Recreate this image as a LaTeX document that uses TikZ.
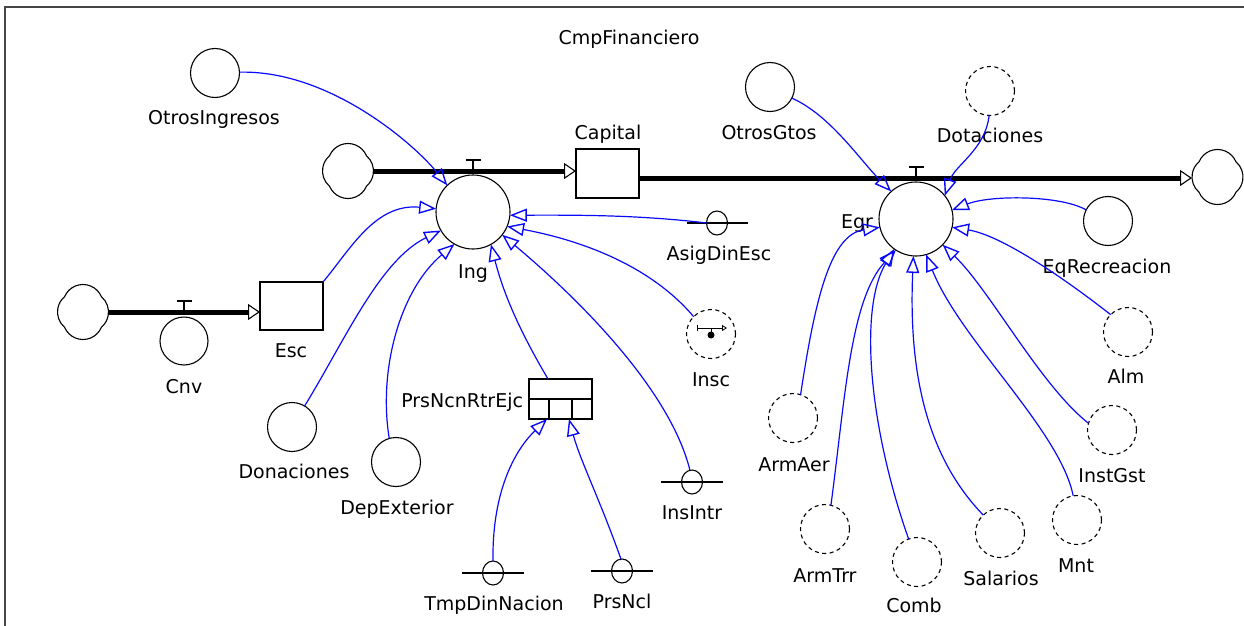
\documentclass[tikz,border=0pt]{standalone}
\usepackage{fontspec}
\setmainfont{DejaVu Sans}
\usetikzlibrary{arrows.meta,shapes.geometric,calc}
\definecolor{linkblue}{RGB}{10,10,250}
\definecolor{framegray}{RGB}{70,70,70}
\begin{document}
\begin{tikzpicture}[x=1pt,y=-1pt,
  every node/.style={font=\fontsize{19}{22}\selectfont, inner sep=0pt, outer sep=0pt},
  lbl/.style={anchor=base},
  aux/.style={circle, draw, line width=1.1pt, minimum size=49pt},
  auxd/.style={aux, dash pattern=on 4pt off 3.5pt},
  valvec/.style={circle, draw, line width=1.1pt, minimum size=74pt},
  stock/.style={rectangle, draw, line width=1.1pt},
  ghost/.style={ellipse, draw, line width=1.1pt, minimum width=21pt, minimum height=24pt},
  ghostline/.style={line width=1.1pt},
  pipe/.style={line width=5pt, -{Triangle[open, length=12pt, width=16pt, line width=1.1pt]}},
  link/.style={linkblue, line width=1.2pt, -{Triangle[open, length=17pt, width=13pt, line width=1.4pt]}},
  cloudarea/.style={minimum width=51pt, minimum height=57pt},
  cloudpic/.pic={\draw[line width=1.1pt] (18.43,15.25) arc[start angle=22.8, end angle=157.2, radius=20]
     arc[start angle=130.3, end angle=229.7, radius=20]
     arc[start angle=202.8, end angle=337.2, radius=20]
     arc[start angle=-49.7, end angle=49.7, radius=20] -- cycle;},
  tee/.style={line width=1.1pt}
]
\useasboundingbox (0,0) rectangle (1244,626);
\draw[line width=1.3pt, framegray] (5,630) -- (5,7) -- (1250,7);

% title
\node[lbl] (title) at (629,45) {CmpFinanciero};

% clouds
\node[cloudarea] (cl1) at (348,171) {};
\pic at (348,171) {cloudpic};
\node[cloudarea] (cl2) at (1217.5,178) {};
\pic at (1217.5,177) {cloudpic};
\node[cloudarea] (cl3) at (83,312) {};
\pic at (83,312) {cloudpic};

% stocks
\node[stock, minimum width=63pt, minimum height=49pt] (cap) at (607.5,173.5) {};
\node[lbl] (capl) at (608,139) {Capital};
\node[stock, minimum width=63pt, minimum height=48pt] (esc) at (291.5,306) {};
\node[lbl] (escl) at (291,357) {Esc};

% valves
\node[valvec] (ing) at (473,212) {};
\node[lbl] (ingl) at (473,278) {Ing};
\node[valvec] (egr) at (916,219) {};
\node[lbl] (egrl) at (857,228) {Egr};
\node[circle, draw, line width=1.1pt, minimum size=48pt] (cnv) at (184,341) {};
\node[lbl] (cnvl) at (184,393) {Cnv};

% pipes
\draw[pipe] (cl1.east) -- (cl1.east -| cap.west);
\draw[pipe] (cap.east |- cl2.west) -- (cl2.west);
\draw[pipe] (cl3.east) -- (cl3.east -| esc.west);

% valve tees
\draw[tee] (ing.north) ++(0,-4) -- ++(0,-11) ++(-7.5,0) -- ++(15,0);
\draw[tee] (egr.north) ++(0,-4) -- ++(0,-11) ++(-7.5,0) -- ++(15,0);
\draw[tee] (cnv.north) ++(0,-5) -- ++(0,-11) ++(-7.5,0) -- ++(15,0);

% auxiliaries left
\node[aux] (oi) at (215,73) {};
\node[lbl] (oil) at (214,124) {OtrosIngresos};
\node[aux] (don) at (292,427) {};
\node[lbl] (donl) at (294,478) {Donaciones};
\node[aux] (dep) at (396,462) {};
\node[lbl] (depl) at (397,514) {DepExterior};
\node[auxd] (insc) at (711,334) {};
\node[lbl] (inscl) at (711,386) {Insc};
\draw[line width=1pt, {Bar[width=6pt,line width=1pt]}-{Triangle[open,length=5pt,width=6pt,line width=0.8pt]}] ($(insc.center)+(-14,-6)$) -- ($(insc.center)+(16,-6)$);
\draw[line width=1pt] ($(insc.center)+(0,-6)$) -- ($(insc.center)+(0,1)$);
\fill ($(insc.center)+(0,1)$) circle (3.5);

% array
\node[stock, minimum width=63pt, minimum height=40pt] (prs) at (560.5,399) {};
\draw[line width=1.1pt] (prs.west) -- (prs.east);
\draw[line width=1.1pt] ($(prs.south west)+(20,0)$) -- ($(prs.west)+(20,0)$);
\draw[line width=1.1pt] ($(prs.south west)+(43,0)$) -- ($(prs.west)+(43,0)$);
\node[anchor=base east] (prsl) at (523,407) {PrsNcnRtrEjc};

% ghosts
\node[ghost] (asig) at (717,223) {};
\draw[ghostline] ($(asig.center)+(-30,0)$) -- ($(asig.center)+(31,0)$);
\node[lbl] (asigl) at (719,260) {AsigDinEsc};
\node[ghost] (insintr) at (692,482) {};
\draw[ghostline] ($(insintr.center)+(-31,0)$) -- ($(insintr.center)+(31,0)$);
\node[lbl] (insintrl) at (692,519) {InsIntr};
\node[ghost] (tmp) at (493,573) {};
\draw[ghostline] ($(tmp.center)+(-31,0)$) -- ($(tmp.center)+(31,0)$);
\node[lbl] (tmpl) at (494,610) {TmpDinNacion};
\node[ghost] (prsncl) at (622,571) {};
\draw[ghostline] ($(prsncl.center)+(-31,0)$) -- ($(prsncl.center)+(31,0)$);
\node[lbl] (prsncll) at (622,608) {PrsNcl};

% auxiliaries right
\node[aux] (og) at (770,87) {};
\node[lbl] (ogl) at (769,139) {OtrosGtos};
\node[auxd] (dot) at (990,91) {};
\node[lbl] (dotl) at (990,142) {Dotaciones};
\node[aux] (eqr) at (1108,221) {};
\node[lbl] (eqrl) at (1107,273) {EqRecreacion};
\node[auxd] (alm) at (1128,332) {};
\node[lbl] (alml) at (1126,383) {Alm};
\node[auxd] (inst) at (1112,430) {};
\node[lbl] (instl) at (1112,482) {InstGst};
\node[auxd] (mnt) at (1077,520) {};
\node[lbl] (mntl) at (1076,572) {Mnt};
\node[auxd] (sal) at (1000,533) {};
\node[lbl] (sall) at (1001,585) {Salarios};
\node[auxd] (comb) at (917,562) {};
\node[lbl] (combl) at (914,612) {Comb};
\node[auxd] (armtrr) at (825,529) {};
\node[lbl] (armtrrl) at (825,582) {ArmTrr};
\node[auxd] (armaer) at (793,418) {};
\node[lbl] (armaerl) at (794,471) {ArmAer};

% links into Ing
\draw[link] (oi.2) .. controls (330,70) and (415,145) .. (ing.134);
\draw[link] (esc.north east) .. controls (350,250) and (375,203) .. (ing.175);
\draw[link] (don.59) .. controls (345,340) and (380,260) .. (ing.210);
\draw[link] (dep.106) .. controls (378,370) and (400,290) .. (ing.240);
\draw[link] ($(prs.north west)+(19,0)$) .. controls (525,340) and (505,300) .. (ing.299);
\draw[link] (insintr.100) .. controls (670,390) and (580,300) .. (ing.322);
\draw[link] (insc.135) .. controls (650,265) and (580,240) .. (ing.337);
\draw[link] (asig.west) .. controls (640,215) and (580,215) .. (ing.355);
% links into array
\draw[link] (tmp.north) .. controls (492,500) and (510,455) .. ($(prs.south west)+(18,0)$);
\draw[link] (prsncl.95) .. controls (600,500) and (580,460) .. ($(prs.south west)+(40,0)$);
% links into Egr
\draw[link] (og.333) .. controls (830,115) and (860,160) .. (egr.132);
\draw[link] (dot.268) .. controls (985,150) and (955,165) .. (egr.39);
\draw[link] (eqr.153) .. controls (1060,195) and (990,195) .. (egr.14);
\draw[link] (alm.135) .. controls (1060,275) and (1000,235) .. (egr.347);
\draw[link] (inst.164) .. controls (1040,385) and (990,290) .. (egr.316);
\draw[link] (mnt.99) .. controls (1060,430) and (960,340) .. (egr.286);
\draw[link] (sal.133) .. controls (930,460) and (908,380) .. (egr.266);
\draw[link] (comb.110) .. controls (870,430) and (858,310) .. (egr.234);
\draw[link] (armtrr.76) .. controls (845,400) and (850,300) .. (egr.237);
\draw[link] (armaer.72) .. controls (815,300) and (830,235) .. (egr.193);
\end{tikzpicture}
\end{document}
